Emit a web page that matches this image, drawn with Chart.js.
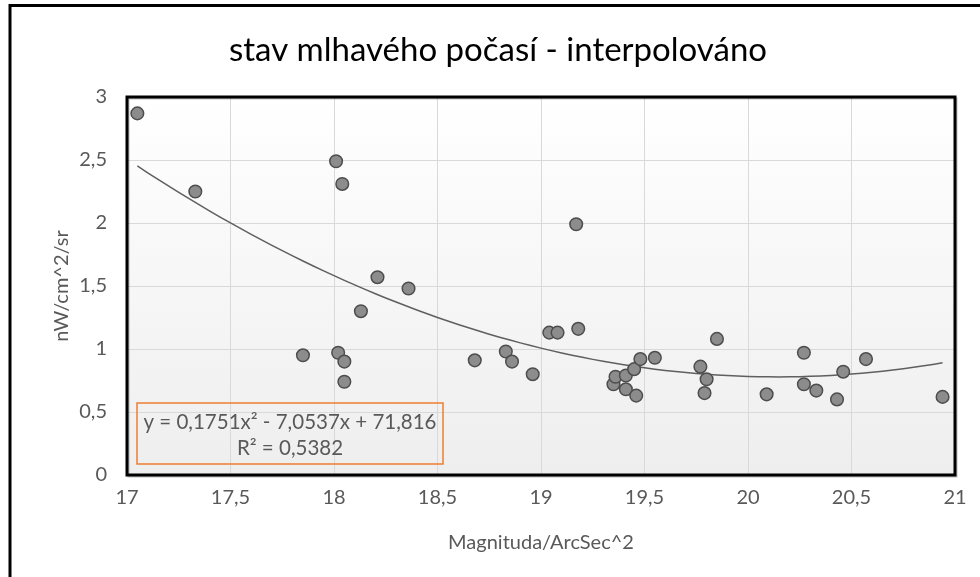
<!DOCTYPE html>
<html>
<head>
<meta charset="utf-8">
<script src="https://cdn.jsdelivr.net/npm/chart.js@4.4.1/dist/chart.umd.min.js"></script>
<style>
html,body{margin:0;padding:0;background:#fff;}
canvas{display:block;}
</style>
</head>
<body>
<canvas id="c" width="980" height="577"></canvas>
<script>
// ---- data ----
const magnitudes = [17.05,17.33,17.85,18.01,18.02,18.04,18.05,18.05,18.13,18.21,18.36,18.68,18.83,18.86,18.96,19.04,19.08,19.17,19.18,19.35,19.36,19.41,19.41,19.45,19.46,19.48,19.55,19.77,19.79,19.80,19.85,20.09,20.27,20.27,20.33,20.43,20.46,20.57,20.94];
const radiances  = [2.87,2.25,0.95,2.49,0.97,2.31,0.90,0.74,1.30,1.57,1.48,0.91,0.98,0.90,0.80,1.13,1.13,1.99,1.16,0.72,0.78,0.79,0.68,0.84,0.63,0.92,0.93,0.86,0.65,0.76,1.08,0.64,0.97,0.72,0.67,0.60,0.82,0.92,0.62];
const trendCoefficients = [0.1751, -7.0537, 71.816]; // a, b, c of the displayed polynomial trend
const trendRange = [17.05, 20.94];
const xTickValues = [17,17.5,18,18.5,19,19.5,20,20.5,21];
const xTickLabels = ['17','17,5','18','18,5','19','19,5','20','20,5','21'];
const yTickValues = [0,0.5,1,1.5,2,2.5,3];
const yTickLabels = ['0','0,5','1','1,5','2','2,5','3'];
const titleText = 'stav mlhavého počasí - interpolováno';
const xTitle = 'Magnituda/ArcSec^2';
const yTitle = 'nW/cm^2/sr';
const equationLines = ['y = 0,1751x² - 7,0537x + 71,816', 'R² = 0,5382'];

const scatterData = magnitudes.map((x,i)=>({x:x, y:radiances[i]}));
const trendData = [];
for (let x = trendRange[0]; x <= trendRange[1] + 1e-9; x += 0.05) {
  const xx = Math.min(x, trendRange[1]);
  trendData.push({x:xx, y:trendCoefficients[0]*xx*xx + trendCoefficients[1]*xx + trendCoefficients[2]});
}
if (trendData[trendData.length-1].x < trendRange[1]) {
  const xx = trendRange[1];
  trendData.push({x:xx, y:trendCoefficients[0]*xx*xx + trendCoefficients[1]*xx + trendCoefficients[2]});
}

const FONT = 'Lato';
const TXT = '#595959';

const decor = {
  id:'decor',
  beforeDraw(chart){
    const {ctx, chartArea:a} = chart;
    ctx.save();
    const g = ctx.createLinearGradient(0,a.top,0,a.bottom);
    g.addColorStop(0,'#ffffff');
    g.addColorStop(1,'#eeeeee');
    ctx.fillStyle = g;
    ctx.fillRect(a.left,a.top,a.right-a.left,a.bottom-a.top);
    ctx.restore();
  },
  afterDraw(chart){
    const {ctx, chartArea:a} = chart;
    ctx.save();
    // outer frame (left and top edges visible)
    ctx.strokeStyle = '#000';
    ctx.lineWidth = 3;
    ctx.beginPath();
    ctx.moveTo(10,577); ctx.lineTo(10,5.5); ctx.lineTo(980,5.5);
    ctx.stroke();
    // plot frame shadow
    ctx.strokeStyle = 'rgba(0,0,0,0.25)';
    ctx.lineWidth = 2;
    ctx.strokeRect(a.left+1.5, a.top+1.5, a.right-a.left, a.bottom-a.top);
    // plot frame
    ctx.strokeStyle = '#000';
    ctx.lineWidth = 3;
    ctx.strokeRect(a.left, a.top, a.right-a.left, a.bottom-a.top);
    // title
    ctx.fillStyle = '#000';
    ctx.font = '33px ' + FONT;
    ctx.textAlign = 'center';
    ctx.textBaseline = 'middle';
    ctx.fillText(titleText, 498, 50);
    // equation box
    const bx = a.left + 10, by = 403, bw = 306, bh = 61;
    ctx.strokeStyle = '#ED7D31';
    ctx.lineWidth = 1.5;
    ctx.strokeRect(bx, by, bw, bh);
    ctx.fillStyle = TXT;
    ctx.font = '20.5px ' + FONT;
    ctx.fillText(equationLines[0], bx + bw/2, 422);
    ctx.fillText(equationLines[1], bx + bw/2, 448);
    ctx.restore();
  }
};

new Chart(document.getElementById('c'), {
  type:'scatter',
  data:{
    datasets:[
      {
        type:'line',
        data:trendData,
        borderColor:'#5f5f5f',
        borderWidth:1.5,
        pointRadius:0,
        fill:false,
        tension:0,
        order:2
      },
      {
        type:'scatter',
        data:scatterData,
        backgroundColor:'#8c8c8c',
        borderColor:'#4d4d4d',
        borderWidth:1.5,
        pointRadius:6.3,
        order:1
      }
    ]
  },
  options:{
    responsive:false,
    animation:false,
    layout:{padding:{left:12,right:25,top:97,bottom:0}},
    plugins:{legend:{display:false}, tooltip:{enabled:false}, title:{display:false}},
    scales:{
      x:{
        type:'linear', min:17, max:21,
        afterBuildTicks(s){ s.ticks = xTickValues.map(v=>({value:v})); },
        ticks:{
          color:TXT, font:{family:FONT,size:20}, padding:11, maxRotation:0, autoSkip:false,
          callback(v){ const i = xTickValues.indexOf(v); return i>=0 ? xTickLabels[i] : ''; }
        },
        grid:{color:'#d9d9d9', lineWidth:1, drawTicks:false},
        border:{display:false},
        title:{display:true, text:xTitle, color:TXT, font:{family:FONT,size:20}, padding:{top:0,bottom:22}},
        afterFit(s){ s.height = 102; }
      },
      y:{
        min:0, max:3,
        afterBuildTicks(s){ s.ticks = yTickValues.map(v=>({value:v})); },
        ticks:{
          color:TXT, font:{family:FONT,size:20}, padding:20,
          callback(v){ const i = yTickValues.indexOf(v); return i>=0 ? yTickLabels[i] : ''; }
        },
        grid:{color:'#d9d9d9', lineWidth:1, drawTicks:false},
        border:{display:false},
        title:{display:true, text:yTitle, color:TXT, font:{family:FONT,size:20}, padding:{top:38,bottom:0}},
        afterFit(s){ s.width = 115; }
      }
    }
  },
  plugins:[decor]
});
</script>
</body>
</html>
